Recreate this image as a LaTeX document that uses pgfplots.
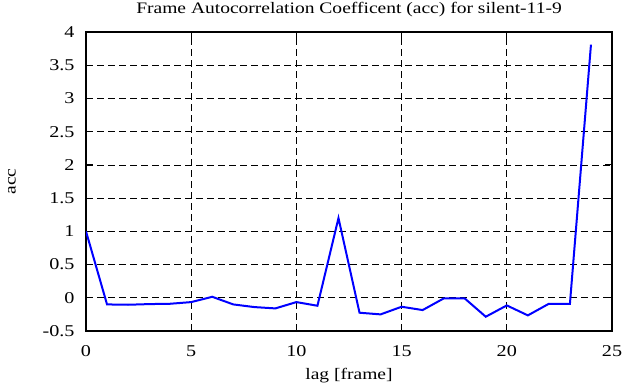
\documentclass[border=0pt]{standalone}
\usepackage{pgfplots}
\pgfplotsset{compat=1.18}
\usepackage{fontspec}
\setmainfont[FakeStretch=1.22]{Liberation Serif}
\begin{document}
\begin{tikzpicture}
\begin{axis}[
  name=ax,
  scale only axis,
  width=526pt, height=299pt,
  xmin=0, xmax=25, ymin=-0.5, ymax=4,
  xtick={0,5,...,25},
  ytick={-0.5,0,0.5,1,1.5,2,2.5,3,3.5,4},
  yticklabels={-0.5,0,0.5,1,1.5,2,2.5,3,3.5,4},
  xticklabels={0,5,10,15,20,25},
  /pgf/number format/assume math mode=true,
  tick align=inside,
  major tick length=7pt,
  tick style={black, line width=1.2pt},
  axis line style={line width=1.6pt},
  grid=major,
  major grid style={black, dash pattern=on 7pt off 4pt, line width=0.7pt},
  ticklabel style={font=\fontsize{16.5}{17}\selectfont},
  xticklabel style={anchor=base, yshift=-25.5pt},
  yticklabel style={xshift=-8pt},
  every axis title/.style={at={(axis description cs:0.5,1)}, anchor=base, yshift=18.5pt, font=\fontsize{16}{17}\selectfont},
  title={Frame Autocorrelation Coefficent (acc) for silent-11-9},
  every axis x label/.style={at={(axis description cs:0.5,0)}, anchor=base, yshift=-48.5pt, font=\fontsize{16}{17}\selectfont},
  every axis y label/.style={at={(axis description cs:0,0.5)}, anchor=center, xshift=-74pt, rotate=90, font=\fontsize{16}{17}\selectfont},
  xlabel={lag [frame]},
  ylabel={acc},
]
\addplot[blue, line width=2pt] coordinates {
(0,1.0) (1,-0.1) (2,-0.105) (3,-0.095) (4,-0.09) (5,-0.065) (6,0.015)
(7,-0.1) (8,-0.14) (9,-0.16) (10,-0.065) (11,-0.12) (12,1.2)
(13,-0.225) (14,-0.25) (15,-0.135) (16,-0.185) (17,-0.01) (18,-0.01)
(19,-0.285) (20,-0.115) (21,-0.265) (22,-0.09) (23,-0.09) (24,3.81)
};
\end{axis}
\pgfresetboundingbox
\path ([shift={(-86pt,-56pt)}]ax.south west) rectangle ([shift={(18pt,32pt)}]ax.north east);
\end{tikzpicture}
\end{document}
